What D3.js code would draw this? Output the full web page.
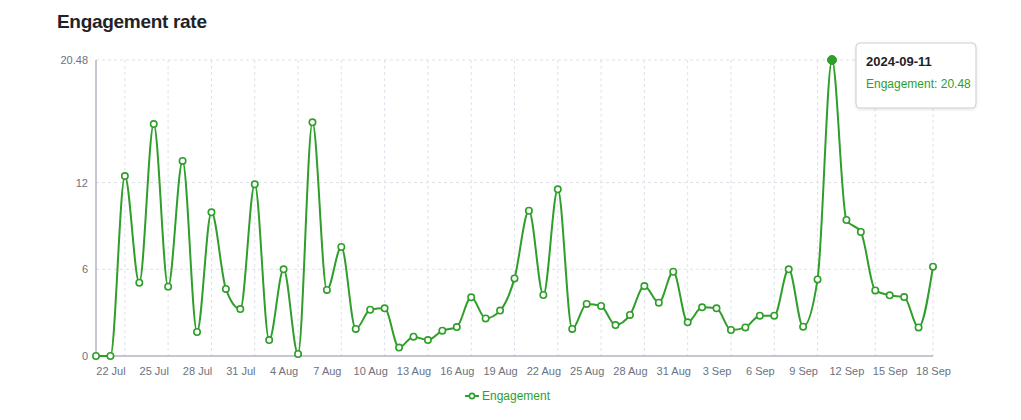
<!DOCTYPE html>
<html>
<head>
<meta charset="utf-8">
<script src="https://cdn.jsdelivr.net/npm/d3@7/dist/d3.min.js"></script>
<style>
  html, body { margin: 0; padding: 0; background: #fff; }
  body { width: 1021px; height: 420px; overflow: hidden; font-family: "Liberation Sans", Arial, Helvetica, sans-serif; }
  svg { display: block; }
</style>
</head>
<body>
<svg id="chart" width="1021" height="420"></svg>
<script>
const dates = [
  "2024-07-21","2024-07-22","2024-07-23","2024-07-24","2024-07-25","2024-07-26","2024-07-27","2024-07-28",
  "2024-07-29","2024-07-30","2024-07-31","2024-08-01","2024-08-02","2024-08-04","2024-08-05","2024-08-06",
  "2024-08-07","2024-08-08","2024-08-09","2024-08-10","2024-08-11","2024-08-12","2024-08-13","2024-08-14",
  "2024-08-15","2024-08-16","2024-08-17","2024-08-18","2024-08-19","2024-08-20","2024-08-21","2024-08-22",
  "2024-08-23","2024-08-24","2024-08-25","2024-08-26","2024-08-27","2024-08-28","2024-08-29","2024-08-30",
  "2024-08-31","2024-09-01","2024-09-02","2024-09-03","2024-09-04","2024-09-05","2024-09-06","2024-09-07",
  "2024-09-08","2024-09-09","2024-09-10","2024-09-11","2024-09-12","2024-09-13","2024-09-14","2024-09-15",
  "2024-09-16","2024-09-17","2024-09-18"
];
const engagement = [
  0, 0, 12.45, 5.07, 16.05, 4.8, 13.5, 1.66,
  9.94, 4.64, 3.25, 11.88, 1.1, 6.0, 0.14, 16.17,
  4.57, 7.54, 1.87, 3.2, 3.3, 0.58, 1.34, 1.1,
  1.75, 2.0, 4.06, 2.6, 3.14, 5.37, 10.05, 4.22,
  11.53, 1.87, 3.6, 3.46, 2.14, 2.84, 4.84, 3.69,
  5.83, 2.33, 3.37, 3.3, 1.8, 1.98, 2.79, 2.79,
  6.0, 2.03, 5.3, 20.48, 9.41, 8.58, 4.54, 4.2,
  4.08, 1.98, 6.18
];
const xTickDates = [
  "2024-07-22","2024-07-25","2024-07-28","2024-07-31","2024-08-04","2024-08-07","2024-08-10","2024-08-13",
  "2024-08-16","2024-08-19","2024-08-22","2024-08-25","2024-08-28","2024-08-31","2024-09-03","2024-09-06",
  "2024-09-09","2024-09-12","2024-09-15","2024-09-18"
];
const xGridDates = [
  "2024-07-23","2024-07-26","2024-07-29","2024-08-01","2024-08-05","2024-08-08","2024-08-11","2024-08-14",
  "2024-08-17","2024-08-20","2024-08-23","2024-08-26","2024-08-29","2024-09-01","2024-09-04","2024-09-07",
  "2024-09-10","2024-09-14","2024-09-18"
];
const yTicks = [0, 6, 12, 20.48];
const yMax = 20.48;
const activeDate = "2024-09-11";
const seriesName = "Engagement";
const title = "Engagement rate";

const color = "#2f9e2a";
const axisColor = "#8792a2";
const tickColor = "#6b7280";
const gridColor = "#dde1ea";

const svg = d3.select("#chart");
const margin = { left: 96, right: 88, top: 60, bottom: 64 };
const W = 1021, H = 420;

const x = d3.scalePoint().domain(dates).range([margin.left, W - margin.right]).padding(0);
const y = d3.scaleLinear().domain([0, yMax]).range([H - margin.bottom, margin.top]);

const data = dates.map((d, i) => ({ date: d, value: engagement[i] }));

// title
svg.append("text").attr("x", 57).attr("y", 28)
  .attr("font-size", 19).attr("font-weight", "bold").attr("fill", "#1f2328")
  .attr("letter-spacing", "-0.3px")
  .text(title);

// grid
const grid = svg.append("g");
grid.selectAll("line.h").data(yTicks.filter(t => t > 0)).join("line")
  .attr("x1", margin.left).attr("x2", W - margin.right)
  .attr("y1", d => y(d)).attr("y2", d => y(d))
  .attr("stroke", gridColor).attr("stroke-dasharray", "3 3");
grid.selectAll("line.v").data(xGridDates).join("line")
  .attr("x1", d => x(d)).attr("x2", d => x(d))
  .attr("y1", margin.top).attr("y2", y(0))
  .attr("stroke", gridColor).attr("stroke-dasharray", "3 3");

// axes
const fmt = d3.timeFormat("%-d %b");
const parse = d3.timeParse("%Y-%m-%d");
const xAxis = svg.append("g").attr("transform", `translate(0,${y(0)})`)
  .call(d3.axisBottom(x).tickValues(xTickDates).tickSize(0).tickPadding(11).tickFormat(d => fmt(parse(d))));
xAxis.select(".domain").attr("stroke", axisColor).attr("d", `M${margin.left},0H${W - margin.right}`);
xAxis.selectAll("text").attr("fill", tickColor).attr("font-size", 11).attr("font-family", "Liberation Sans, Arial, sans-serif");

const yAxis = svg.append("g").attr("transform", `translate(${margin.left},0)`)
  .call(d3.axisLeft(y).tickValues(yTicks).tickSize(0).tickPadding(8).tickFormat(d => d3.format("~g")(d)));
yAxis.select(".domain").attr("stroke", axisColor).attr("d", `M0,${margin.top}V${y(0)}`);
yAxis.selectAll("text").attr("fill", tickColor).attr("font-size", 11).attr("font-family", "Liberation Sans, Arial, sans-serif");

// line
const line = d3.line().x(d => x(d.date)).y(d => y(d.value)).curve(d3.curveMonotoneX);
svg.append("path").datum(data).attr("d", line)
  .attr("fill", "none").attr("stroke", color).attr("stroke-width", 2);

// dots
svg.append("g").selectAll("circle").data(data.filter(d => d.date !== activeDate)).join("circle")
  .attr("cx", d => x(d.date)).attr("cy", d => y(d.value)).attr("r", 3.2)
  .attr("fill", "#fff").attr("stroke", color).attr("stroke-width", 1.6);
const act = data.find(d => d.date === activeDate);
svg.append("circle").attr("cx", x(act.date)).attr("cy", y(act.value)).attr("r", 4.5)
  .attr("fill", color).attr("stroke", color).attr("stroke-width", 1);

// legend
const lg = svg.append("g").attr("transform", `translate(465,396)`);
lg.append("line").attr("x1", 0).attr("x2", 14).attr("y1", 0).attr("y2", 0).attr("stroke", color).attr("stroke-width", 2);
lg.append("circle").attr("cx", 7).attr("cy", 0).attr("r", 2.6).attr("fill", "#fff").attr("stroke", color).attr("stroke-width", 1.6);
lg.append("text").attr("x", 17).attr("y", 4).attr("font-size", 12).attr("fill", color).text(seriesName);

// tooltip
const tt = svg.append("g").attr("transform", `translate(${x(act.date) + 24},43)`);
const defs = svg.append("defs");
const f = defs.append("filter").attr("id", "sh").attr("x", "-20%").attr("y", "-20%").attr("width", "140%").attr("height", "150%");
f.append("feDropShadow").attr("dx", 0).attr("dy", 1).attr("stdDeviation", 1.5).attr("flood-color", "#000").attr("flood-opacity", 0.12);
tt.append("rect").attr("x", 0).attr("y", 0).attr("width", 120).attr("height", 65).attr("rx", 4)
  .attr("fill", "#fff").attr("stroke", "#c9cdd4").attr("filter", "url(#sh)");
tt.append("text").attr("x", 10).attr("y", 23).attr("font-size", 13).attr("font-weight", "bold").attr("fill", "#1f2328").text(act.date);
tt.append("text").attr("x", 10).attr("y", 45).attr("font-size", 12).attr("fill", color).text(`${seriesName}: ${act.value}`);
</script>
</body>
</html>
